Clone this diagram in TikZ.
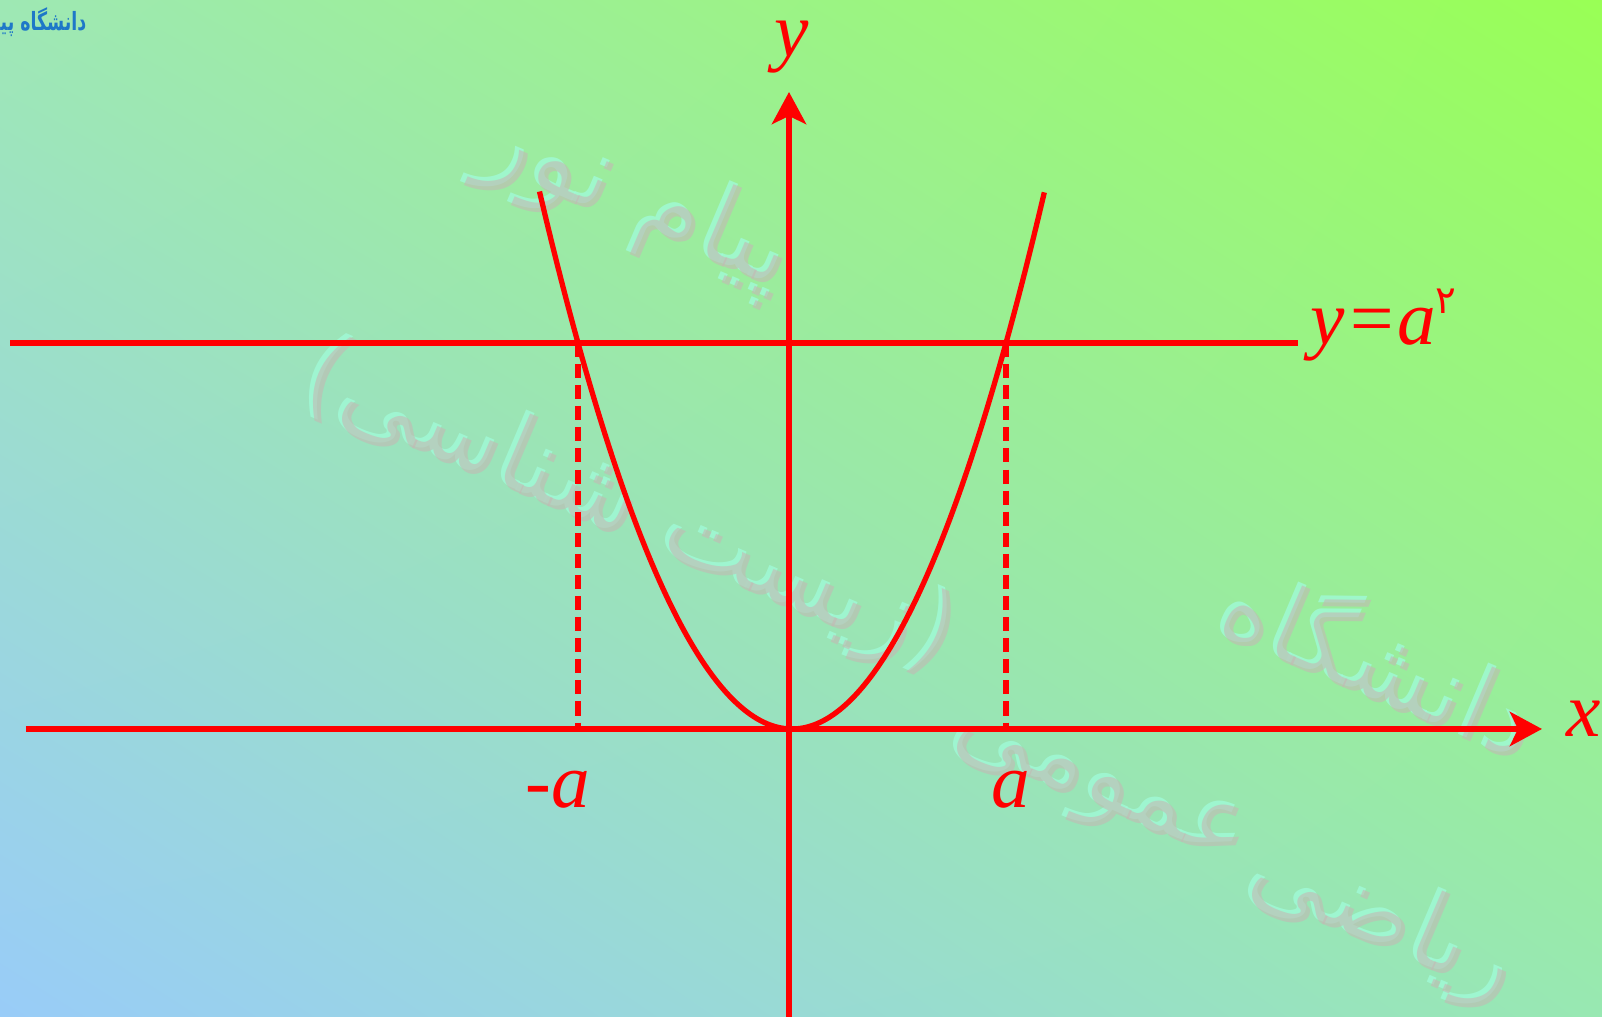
\documentclass[tikz,border=0pt]{standalone}
\usepackage{fontspec}
\setmainfont{Liberation Serif}
\newfontfamily\arfont[Script=Arabic]{DejaVu Sans}
\TeXXeTstate=1
\usetikzlibrary{calc, positioning, arrows.meta, shadings}
\definecolor{colAxe}{RGB}{255, 0, 0}
\definecolor{colBL}{RGB}{153, 204, 248}
\definecolor{colTR}{RGB}{153, 255, 85}
\definecolor{colTL}{RGB}{158, 232, 180}
\definecolor{colBR}{RGB}{152, 232, 178}
\definecolor{colWm}{RGB}{195, 185, 180}
\definecolor{colWmHi}{RGB}{160, 250, 215}
\definecolor{colLogo}{RGB}{30, 120, 200}

\begin{document}
\begin{tikzpicture}[
  >={Stealth[length=3.2mm, width=3.4mm, inset=0.8mm]},
  axe/.style={colAxe, line width=1.8pt},
  courbe/.style={colAxe, line width=1.5pt},
  pointille/.style={colAxe, line width=1.6pt, dash pattern=on 4pt off 2pt},
  lab/.style={colAxe, font=\fontsize{22}{24}\selectfont\itshape, inner sep=0pt},
  wm/.style={text=colWm, opacity=0.6, rotate=-23, inner sep=0pt,
             font=\arfont\fontsize{#1}{#1}\selectfont},
  wmhi/.style={text=colWmHi, opacity=0.8, rotate=-23, inner sep=0pt,
               font=\arfont\fontsize{#1}{#1}\selectfont}
]
\useasboundingbox (0,0) rectangle (16.02,10.17);

% ---------- Fond dégradé ----------
\shade[upper left=colTL, upper right=colTR, lower left=colBL, lower right=colBR]
  (0,0) rectangle (16.02,10.17);

% ---------- Filigrane ----------
\foreach \px/\py/\sz/\txt in {6.40/8.15/30/پیام نور,
                              6.30/5.05/29/(زیست شناسی),
                              13.85/3.60/29/دانشگاه,
                              11.00/2.25/29/عمومی,
                              13.85/0.95/29/ریاضی}{
  \node[wmhi=\sz] at (\px-0.04,\py+0.04) {\beginR\txt\endR};
  \node[wm=\sz] at (\px,\py) {\beginR\txt\endR};
}

% logo en haut à gauche (coupé par le bord)
\node[colLogo, anchor=east, inner sep=0pt,
      font=\arfont\fontsize{6.5}{7}\selectfont\bfseries]
  (logo) at (0.87,9.95) {\scalebox{0.76}[1.1]{\beginR دانشگاه پیام نور\endR}};

% ---------- Repères ----------
\coordinate (O)   at (7.92,2.88);
\coordinate (xg)  at (0.26,2.88);
\coordinate (xd)  at (15.42,2.88);
\coordinate (yb)  at (7.89,0);
\coordinate (yh)  at (7.89,9.25);
\coordinate (hg)  at (0.10,6.74);
\coordinate (hd)  at (12.98,6.74);
\coordinate (Pa)  at (10.06,6.74);
\coordinate (Pma) at (5.78,6.74);
\coordinate (Qa)  at (10.06,2.88);
\coordinate (Qma) at (5.78,2.88);

% ---------- Axes ----------
\draw[axe, ->] (xg) -- (xd);
\draw[axe, ->] (yb) -- (yh);
\draw[axe] (hg) -- (hd);

% ---------- Parabole ----------
\draw[courbe, domain=-1.18:1.18, samples=80, smooth]
  plot ({7.92+2.14*\x},{2.88+3.86*\x*\x});

% ---------- Pointillés ----------
\draw[pointille] (Pma) -- (Qma);
\draw[pointille] (Pa) -- (Qa);

% ---------- Étiquettes ----------
\node[lab, anchor=base] (laby) at (7.92,9.60) {y};
\node[lab, anchor=base] (labx) at (15.84,2.80) {x};
\node[lab, anchor=base west] (labh) at (13.10,6.72)
  {y=a\raisebox{0.9ex}{\arfont\fontsize{11}{11}\selectfont\upshape ۲}};
\node[lab, anchor=base] (labma) at (5.58,2.09) {-a};
\node[lab, anchor=base] (laba) at (10.11,2.09) {a};

\end{tikzpicture}
\end{document}
